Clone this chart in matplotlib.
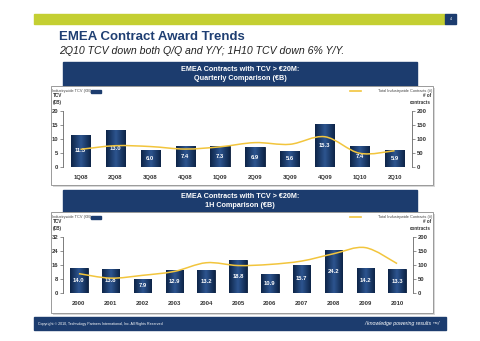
import matplotlib
matplotlib.use('Agg')
import matplotlib.pyplot as plt
import numpy as np
from matplotlib.patches import Rectangle
from matplotlib.path import Path
from matplotlib.patches import PathPatch
from matplotlib.colors import LinearSegmentedColormap

plt.rcParams['font.family'] = ['Liberation Sans', 'DejaVu Sans']

# Quarterly data
quarters = ['1Q08', '2Q08', '3Q08', '4Q08', '1Q09', '2Q09', '3Q09', '4Q09', '1Q10', '2Q10']
tcv_q = [11.3, 13.0, 6.0, 7.4, 7.3, 6.9, 5.6, 15.3, 7.4, 5.9]
contracts_q = [62, 75, 72, 63, 71, 86, 80, 107, 48, 57]

# 1H data
years = ['2000', '2001', '2002', '2003', '2004', '2005', '2006', '2007', '2008', '2009', '2010']
tcv_h = [14.0, 13.8, 7.9, 12.9, 13.2, 18.8, 10.9, 15.7, 24.2, 14.2, 13.3]
contracts_h = [68, 52, 62, 76, 107, 97, 101, 113, 139, 161, 104]

W, H = 480, 341
NAVY = '#1c3c6e'
GREEN = '#c4cf32'
YELLOW = '#f2c53d'
bar_cmap = LinearSegmentedColormap.from_list('barfill', ['#0d2447', '#2d5590', '#0d2447'])


def rect(x0, y0, x1, y1):
    # pixel box (top-left origin) -> figure fraction
    return [x0 / W, 1 - y1 / H, (x1 - x0) / W, (y1 - y0) / H]


def smooth_path(xs, ys):
    # Catmull-Rom through the points, as cubic bezier segments
    verts = [(xs[0], ys[0])]
    codes = [Path.MOVETO]
    n = len(xs)
    for i in range(n - 1):
        x0, y0 = (xs[i - 1], ys[i - 1]) if i > 0 else (xs[i], ys[i])
        x1, y1 = xs[i], ys[i]
        x2, y2 = xs[i + 1], ys[i + 1]
        x3, y3 = (xs[i + 2], ys[i + 2]) if i + 2 < n else (x2, y2)
        verts += [(x1 + (x2 - x0) / 6, y1 + (y2 - y0) / 6),
                  (x2 - (x3 - x1) / 6, y2 - (y3 - y1) / 6),
                  (x2, y2)]
        codes += [Path.CURVE4] * 3
    return Path(verts, codes)


def draw_chart(fig, box, labels, tcv, contracts, ymax, ystep):
    ax = fig.add_axes(rect(*box))
    x = list(range(len(labels)))
    bars = ax.bar(x, tcv, width=0.55, color=NAVY, edgecolor='#0a1d3a', linewidth=0.6, zorder=2)
    grad = np.linspace(0, 1, 64).reshape(1, -1)
    for b in bars:
        im = ax.imshow(grad, cmap=bar_cmap, aspect='auto', zorder=2.5,
                       extent=(b.get_x(), b.get_x() + b.get_width(), 0, b.get_height()))
        im.set_clip_path(b)
    for xi, v in zip(x, tcv):
        ax.text(xi, v / 2, '%.1f' % v, ha='center', va='center', color='white',
                fontsize=4.2, fontweight='bold', zorder=5)
    ax.set_xlim(-0.5, len(labels) - 0.5)
    ax.set_ylim(0, ymax)
    ax.set_yticks(range(0, ymax + 1, ystep))
    ax.set_xticks(x)
    ax.set_xticklabels(labels)
    for s in ['top', 'right', 'bottom']:
        ax.spines[s].set_visible(False)
    ax.spines['left'].set_color('#666666')
    ax.spines['left'].set_linewidth(0.6)
    ax.tick_params(axis='y', length=2, width=0.5, color='#666666', labelsize=4.2, pad=1.5)
    ax.tick_params(axis='x', length=0, labelsize=4.2, pad=6)
    for t in ax.get_xticklabels() + ax.get_yticklabels():
        t.set_fontweight('bold')
        t.set_color('#333333')

    ax2 = ax.twinx()
    ax2.set_ylim(0, 200)
    ax2.set_yticks(range(0, 201, 50))
    ax2.add_patch(PathPatch(smooth_path(x, contracts), fill=False, edgecolor=YELLOW,
                            linewidth=1.1, zorder=4))
    for s in ['top', 'left', 'bottom']:
        ax2.spines[s].set_visible(False)
    ax2.spines['right'].set_color('#666666')
    ax2.spines['right'].set_linewidth(0.6)
    ax2.tick_params(axis='y', length=2, width=0.5, color='#666666', labelsize=4.2, pad=1.5)
    for t in ax2.get_yticklabels():
        t.set_fontweight('bold')
        t.set_color('#333333')
    ax.patch.set_alpha(0)
    ax2.patch.set_alpha(0)


fig = plt.figure(figsize=(W / 100, H / 100), dpi=100)

# page overlay in pixel coordinates
pg = fig.add_axes([0, 0, 1, 1])
pg.set_xlim(0, W)
pg.set_ylim(H, 0)
pg.axis('off')

pg.add_patch(Rectangle((34, 14), 411, 10, color=GREEN))
pg.add_patch(Rectangle((445, 14), 11, 10, color=NAVY))
pg.text(450.5, 19, '4', color='white', fontsize=2.5, ha='center', va='center')

pg.text(59, 37, 'EMEA Contract Award Trends', color='#1f3f73', fontsize=9.5,
        fontweight='bold', va='center')
pg.text(59, 51, '2Q10 TCV down both Q/Q and Y/Y; 1H10 TCV down 6% Y/Y.',
        color='#222222', fontsize=7.6, style='italic', va='center')

headers = [((63, 62, 417, 86), 'EMEA Contracts with TCV > \u20ac20M:\nQuarterly Comparison (\u20acB)'),
           ((63, 190, 417, 212), 'EMEA Contracts with TCV > \u20ac20M:\n1H Comparison (\u20acB)')]
for (x0, y0, x1, y1), txt in headers:
    pg.add_patch(Rectangle((x0, y0), x1 - x0, y1 - y0, color=NAVY))
    pg.text((x0 + x1) / 2, (y0 + y1) / 2, txt, color='white', fontsize=5.2,
            fontweight='bold', ha='center', va='center', linespacing=1.5)

panels = [(51, 86, 433, 185), (51, 212, 433, 313)]
for x0, y0, x1, y1 in panels:
    pg.add_patch(Rectangle((x0 + 1.5, y0 + 1.5), x1 - x0, y1 - y0, facecolor='#d8d8d8',
                           edgecolor='none', zorder=0))
    pg.add_patch(Rectangle((x0, y0), x1 - x0, y1 - y0, facecolor='white',
                           edgecolor='#9a9a9a', linewidth=0.7, zorder=1))
    pg.text(52, y0 + 5, 'Industrywide TCV (\u20acB)', fontsize=2.8, color='#444444', va='center', zorder=3)
    pg.add_patch(Rectangle((91, y0 + 3.5), 10, 3, color=NAVY, zorder=3))
    pg.text(53, y0 + 13, 'TCV\n(\u20acB)', fontsize=3.3, fontweight='bold', color='#333333',
            va='center', linespacing=1.4, zorder=3)
    pg.text(432, y0 + 5, 'Total Industrywide Contracts (#)', fontsize=2.8, color='#444444',
            ha='right', va='center', zorder=3)
    pg.plot([350, 361], [y0 + 4.8, y0 + 4.8], color=YELLOW, linewidth=1.2, zorder=3)
    pg.text(431, y0 + 13, '# of\ncontracts', fontsize=3.3, fontweight='bold', color='#333333',
            ha='right', va='center', linespacing=1.4, multialignment='right', zorder=3)

# footer
pg.add_patch(Rectangle((34, 317), 412, 13, color=NAVY))
pg.text(38, 323.5, 'Copyright \u00a9 2010, Technology Partners International, Inc. All Rights Reserved',
        color='white', fontsize=2.6, va='center')
pg.text(440, 323.5, '/ knowledge powering results \u2122/', color='white', fontsize=3.8,
        style='italic', ha='right', va='center')

draw_chart(fig, (63, 110.7, 412, 166.7), quarters, tcv_q, contracts_q, 20, 5)
draw_chart(fig, (63, 236.7, 413, 292.7), years, tcv_h, contracts_h, 32, 8)

fig.savefig('out.png', dpi=100, facecolor='white')
